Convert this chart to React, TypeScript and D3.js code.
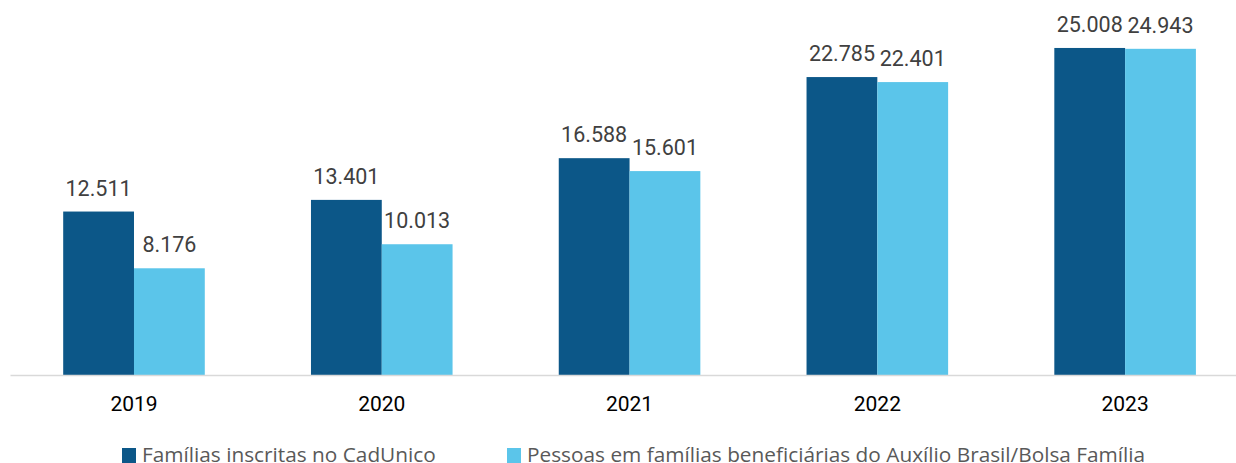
import React from "react";
import * as d3 from "d3";

const years = ["2019", "2020", "2021", "2022", "2023"];
const familias = [12511, 13401, 16588, 22785, 25008];
const pessoas = [8176, 10013, 15601, 22401, 24943];
const seriesNames = [
  "Famílias inscritas no CadUnico",
  "Pessoas em famílias beneficiárias do Auxílio Brasil/Bolsa Família",
];
const colors = ["#0c5788", "#5bc5ea"];

const W = 1236;
const H = 463;

export default function App() {
  const x = d3.scaleBand<string>().domain(years).range([10.1, 1249]).padding(0);
  const xs = d3
    .scaleBand<number>()
    .domain([0, 1])
    .range([0, x.bandwidth()])
    .paddingInner(0)
    .paddingOuter(0.75);
  const y = d3.scaleLinear().domain([0, 28000]).range([375.3, 8.8]);
  const fmt = (v: number) => d3.format(",")(v).replace(/,/g, ".");
  const series = [familias, pessoas];
  const legendX = [122, 507];

  return (
    <svg
      width={W}
      height={H}
      style={{ position: "absolute", left: 0, top: 0, background: "#fff" }}
    >
      {series.map((vals, si) =>
        vals.map((v, i) => {
          const bx = (x(years[i]) as number) + (xs(si) as number);
          return (
            <g key={`${si}-${i}`}>
              <rect
                x={bx}
                y={y(v)}
                width={xs.bandwidth()}
                height={y(0) - y(v)}
                fill={colors[si]}
              />
              <text
                x={bx + xs.bandwidth() / 2}
                y={y(v) - 16}
                textAnchor="middle"
                fontFamily="Roboto"
                fontSize={21.5}
                fill="#404040"
              >
                {fmt(v)}
              </text>
            </g>
          );
        })
      )}
      <line x1={10.5} x2={W} y1={375.5} y2={375.5} stroke="#d9d9d9" strokeWidth={1.5} />
      {years.map((yr) => (
        <text
          key={yr}
          x={(x(yr) as number) + x.bandwidth() / 2}
          y={410.5}
          textAnchor="middle"
          fontFamily="Roboto"
          fontSize={21}
          fill="#000"
        >
          {yr}
        </text>
      ))}
      {seriesNames.map((name, i) => (
        <g key={name}>
          <rect x={legendX[i]} y={448} width={14} height={15} fill={colors[i]} />
          <text
            x={legendX[i] + 20}
            y={461.5}
            fontFamily="Open Sans"
            fontSize={20.8}
            fill="#595959"
          >
            {name}
          </text>
        </g>
      ))}
    </svg>
  );
}
